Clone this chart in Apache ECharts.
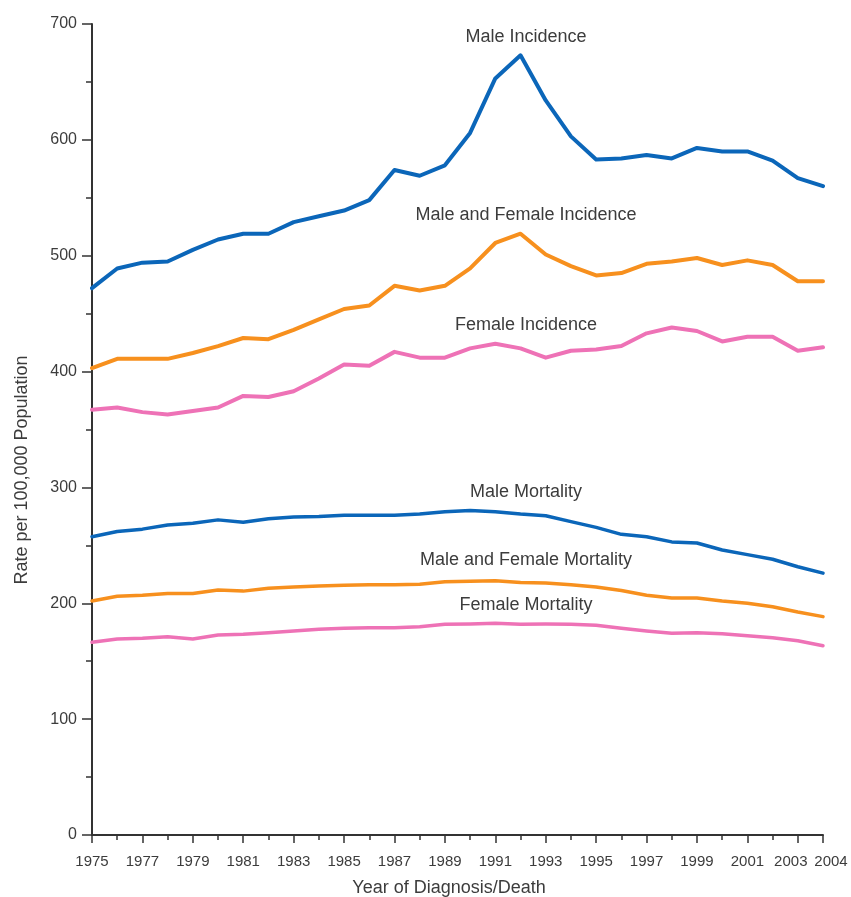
<!DOCTYPE html>
<html>
<head>
<meta charset="utf-8">
<style>
  html, body { margin: 0; padding: 0; background: #fff; }
  #chart { width: 851px; height: 897px; }
</style>
<script src="https://cdn.jsdelivr.net/npm/echarts@6/dist/echarts.min.js"></script>
</head>
<body>
<div id="chart"></div>
<script>
// Years of diagnosis / death
const years = [1975,1976,1977,1978,1979,1980,1981,1982,1983,1984,1985,1986,1987,1988,1989,
               1990,1991,1992,1993,1994,1995,1996,1997,1998,1999,2000,2001,2002,2003,2004];

// Rates per 100,000 population
const maleIncidence = [472,489,494,495,505,514,519,519,529,534,539,548,574,569,578,
                       606,653,673,634,603,583,584,587,584,593,590,590,582,567,560];
const bothIncidence = [403,411,411,411,416,422,429,428,436,445,454,457,474,470,474,
                       489,511,519,501,491,483,485,493,495,498,492,496,492,478,478];
const femaleIncidence = [367,369,365,363,366,369,379,378,383,394,406,405,417,412,412,
                         420,424,420,412,418,419,422,433,438,435,426,430,430,418,421];
const maleMortality = [257.5,262,264,267.5,269,272,270,273,274.5,275,276,276,276,277,279,
                       280,279,277,275.5,270.5,265.5,259.5,257.5,253,252,246,242,238,231.5,226];
const bothMortality = [202,206,207,208.5,208.5,211.5,210.5,213,214,215,215.5,216,216,216.5,218.5,
                       219,219.5,218,217.5,216,214,211,207,204.5,204.5,202,200,197,192.5,188.5];
const femaleMortality = [166.3,169.2,169.8,171.2,169.2,172.6,173.2,174.6,176.1,177.5,178.4,178.9,178.9,179.8,181.9,
                         182.1,182.7,181.9,182.1,181.9,181.0,178.4,176.1,174.1,174.6,173.7,172.0,170.3,167.7,163.4];

const seriesNames = ['Male Incidence','Male and Female Incidence','Female Incidence',
                     'Male Mortality','Male and Female Mortality','Female Mortality'];
const yTicks = [0,100,200,300,400,500,600,700];

const FONT = '"Liberation Sans", Arial, Helvetica, sans-serif';
const TEXT = '#3c3c3c';
const AXIS = '#333';
const BLUE = '#0b66b9';
const ORANGE = '#f7901e';
const PINK = '#ee72b6';

function pairs(vals) { return years.map((y, i) => [y, vals[i]]); }

// Name label placed in data space above each curve
function nameTag(name, coord) {
  return {
    symbol: 'circle', symbolSize: 1,
    itemStyle: { color: 'rgba(0,0,0,0)' },
    label: { show: true, position: 'inside', formatter: name,
             color: TEXT, fontSize: 18, fontFamily: FONT },
    data: [{ coord: coord }],
    silent: true
  };
}

function line(name, vals, color, width, tagCoord) {
  return {
    name: name, type: 'line', xAxisIndex: 0, yAxisIndex: 0,
    data: pairs(vals), showSymbol: false, symbol: 'none',
    lineStyle: { color: color, width: width, join: 'round', cap: 'round' },
    itemStyle: { color: color },
    markPoint: nameTag(name, tagCoord),
    z: 3
  };
}

const chart = echarts.init(document.getElementById('chart'), null, { renderer: 'canvas' });

chart.setOption({
  animation: false,
  backgroundColor: '#fff',
  grid: { left: 92, right: 28, top: 24, bottom: 62, containLabel: false },
  xAxis: [
    {
      type: 'value', min: 1975, max: 2004, interval: 2,
      axisLine: { show: true, lineStyle: { color: AXIS, width: 2 } },
      axisTick: { show: true, length: 8, lineStyle: { color: AXIS, width: 1.5 } },
      splitLine: { show: false },
      axisLabel: {
        show: true, margin: 19, color: TEXT, fontSize: 15, fontFamily: FONT,
        showMinLabel: true, showMaxLabel: true,
        formatter: function (v) {
          if (v === 2004) return '{r|2004}';
          if (v === 2003) return '{l|2003}';
          return String(v);
        },
        rich: {
          r: { padding: [0, 0, 0, 16], color: TEXT, fontSize: 15, fontFamily: FONT },
          l: { padding: [0, 14, 0, 0], color: TEXT, fontSize: 15, fontFamily: FONT }
        }
      }
    },
    {
      type: 'value', min: 1975, max: 2004, interval: 1, position: 'bottom',
      axisLine: { show: false },
      axisTick: { show: true, length: 5, lineStyle: { color: AXIS, width: 1.5 } },
      axisLabel: { show: false },
      splitLine: { show: false }
    }
  ],
  yAxis: {
    type: 'value', min: yTicks[0], max: yTicks[yTicks.length - 1], interval: 100,
    axisLine: { show: true, lineStyle: { color: AXIS, width: 2 } },
    axisTick: { show: true, length: 10, lineStyle: { color: AXIS, width: 1.5 } },
    minorTick: { show: true, splitNumber: 2, length: 6, lineStyle: { color: AXIS, width: 1.5 } },
    splitLine: { show: false },
    axisLabel: { margin: 15, color: TEXT, fontSize: 16, fontFamily: FONT }
  },
  graphic: [
    {
      type: 'text', x: 22, y: 470, rotation: Math.PI / 2,
      style: { text: 'Rate per 100,000 Population', fill: TEXT, fontSize: 18,
               fontFamily: FONT, textAlign: 'center', textVerticalAlign: 'middle' }
    },
    {
      type: 'text', x: 449, y: 888,
      style: { text: 'Year of Diagnosis/Death', fill: TEXT, fontSize: 18,
               fontFamily: FONT, textAlign: 'center', textVerticalAlign: 'middle' }
    }
  ],
  series: [
    line(seriesNames[0], maleIncidence, BLUE, 4, [1992.22, 688.8]),
    line(seriesNames[1], bothIncidence, ORANGE, 4, [1992.22, 535.1]),
    line(seriesNames[2], femaleIncidence, PINK, 4, [1992.22, 440.2]),
    line(seriesNames[3], maleMortality, BLUE, 3.5, [1992.22, 296.0]),
    line(seriesNames[4], bothMortality, ORANGE, 3.5, [1992.22, 237.4]),
    line(seriesNames[5], femaleMortality, PINK, 3.5, [1992.22, 198.5])
  ]
});
</script>
</body>
</html>
